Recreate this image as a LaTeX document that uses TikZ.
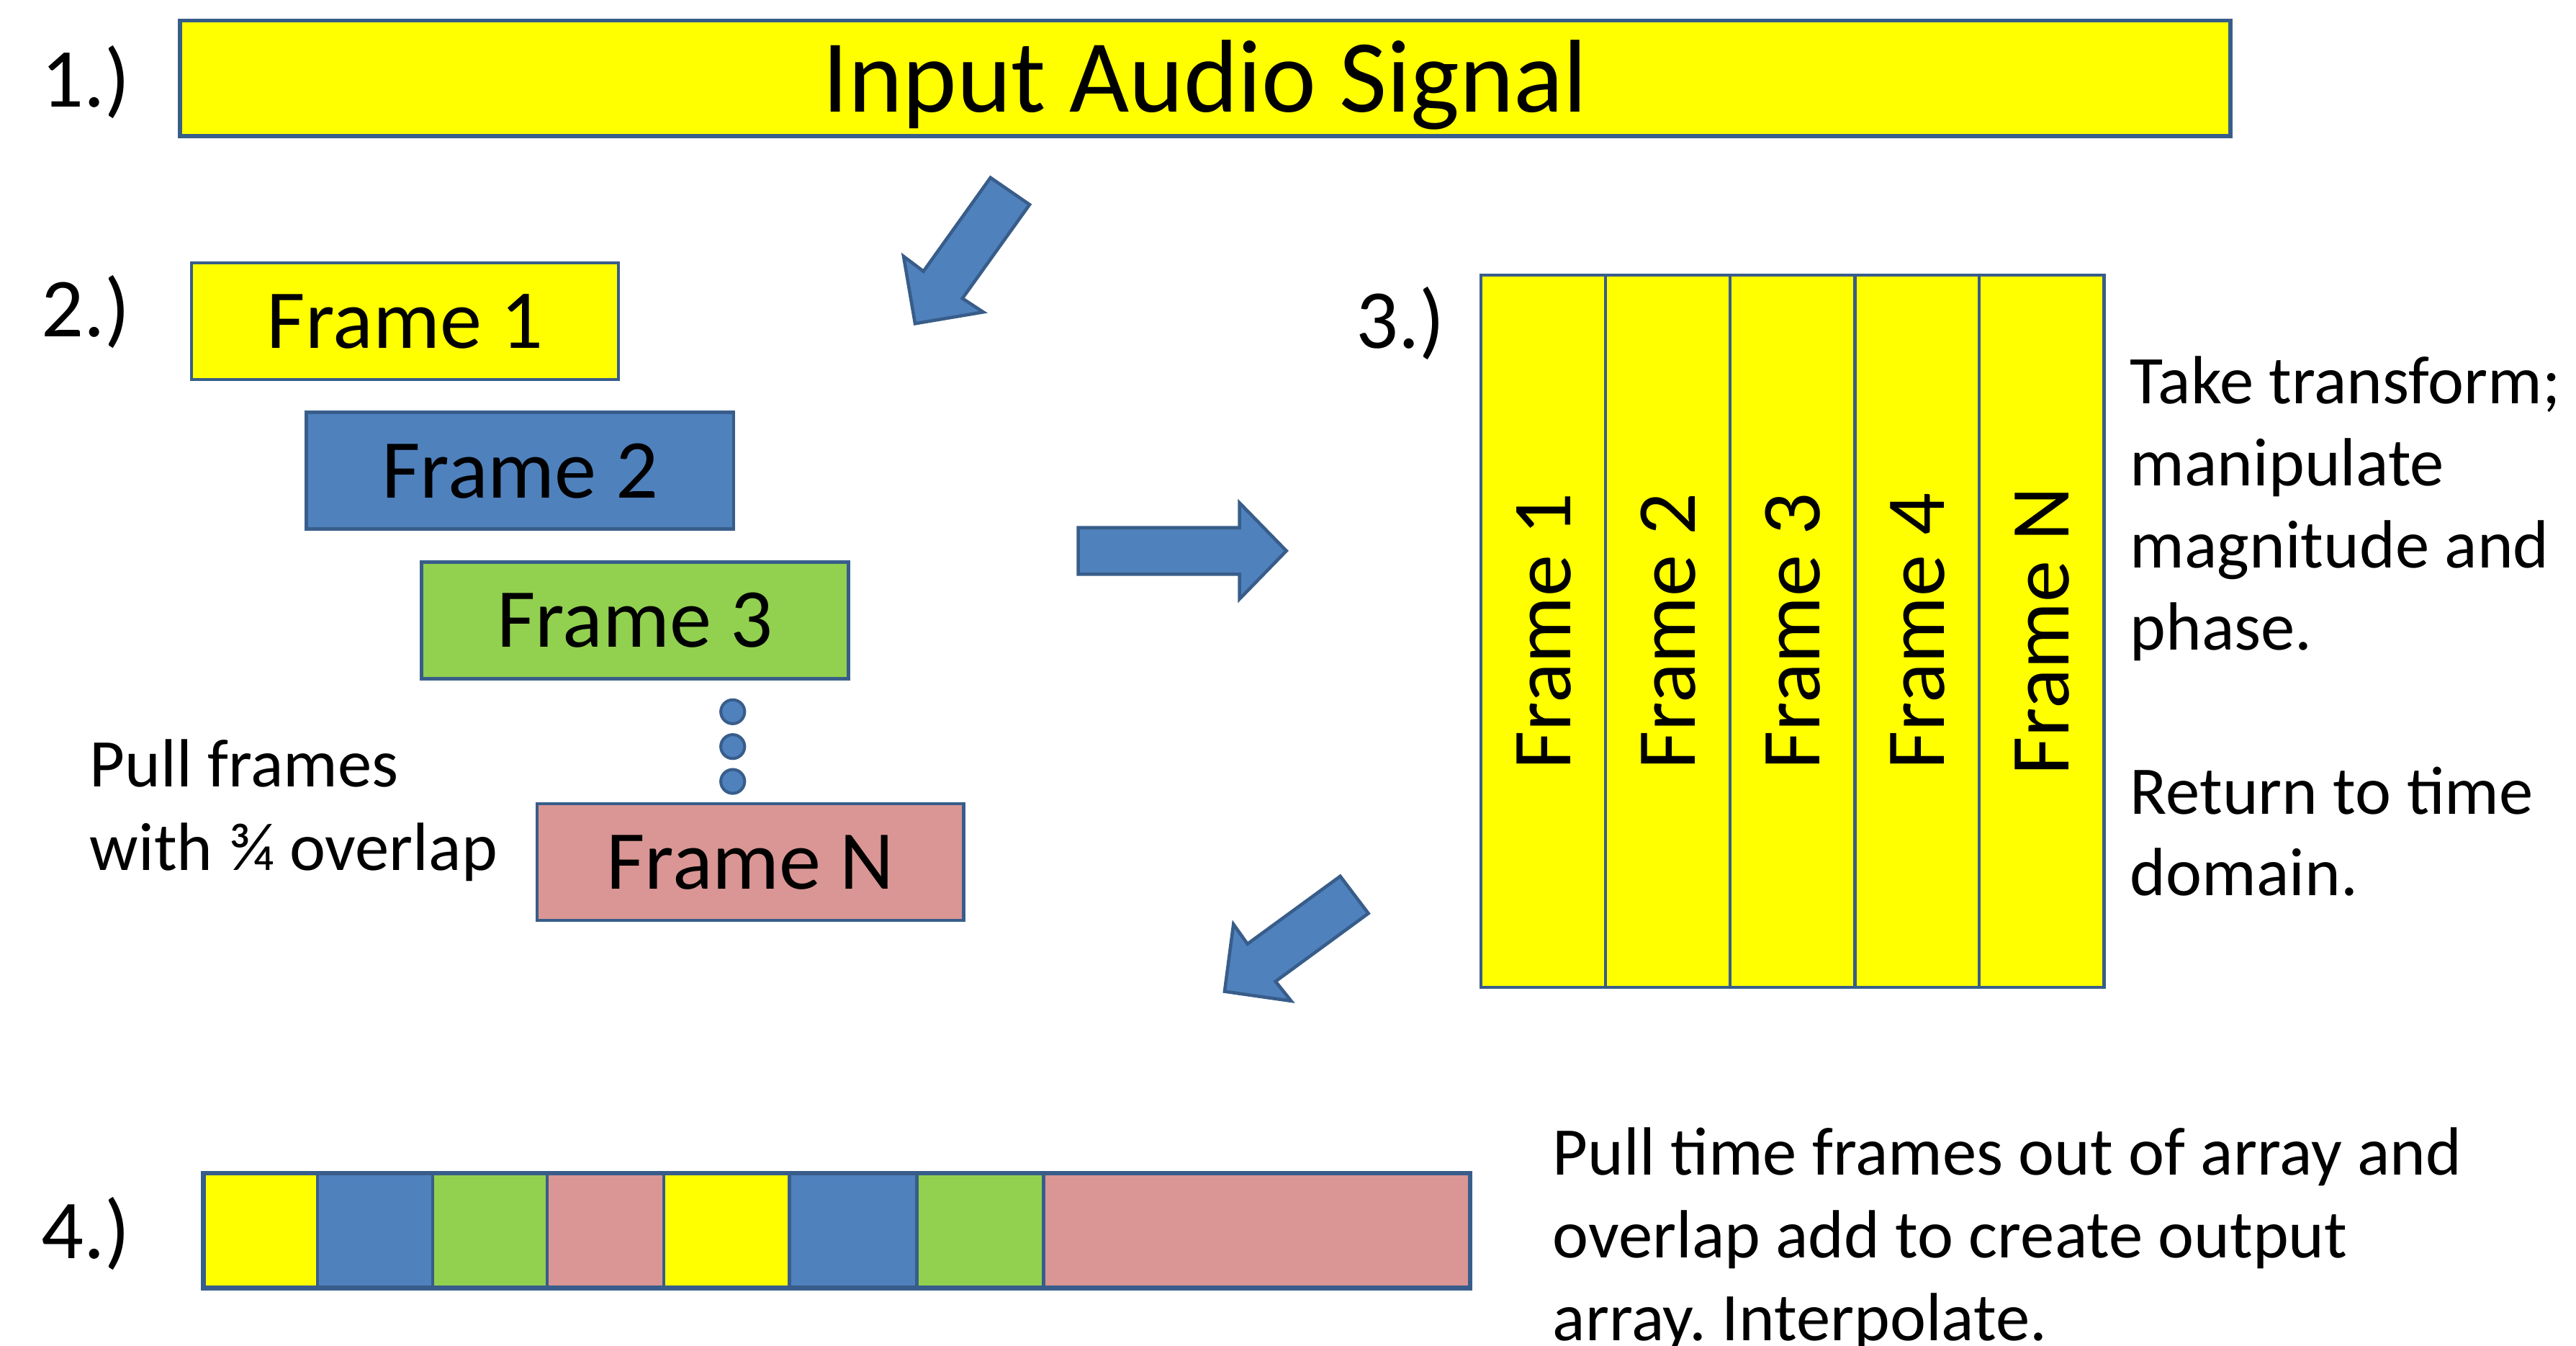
\documentclass[tikz,border=0pt]{standalone}
\usepackage{fontspec}
\setmainfont{Carlito}
\frenchspacing
\definecolor{ppyellow}{HTML}{FFFF00}
\definecolor{ppblue}{HTML}{4F81BD}
\definecolor{ppgreen}{HTML}{92D050}
\definecolor{pppink}{HTML}{D99694}
\definecolor{ppborder}{HTML}{385D8A}
\begin{document}
\begin{tikzpicture}[x=1pt,y=-1pt,
  box/.style={draw=ppborder, line width=2pt, rectangle, inner sep=0pt, outer sep=0pt,
    text height=32.8pt, text depth=0pt, font=\fontsize{51}{61}\selectfont, anchor=north west},
  cell/.style={draw=ppborder, line width=2pt, rectangle, inner sep=0pt, outer sep=0pt,
    anchor=north west, minimum height=69.9pt},
  col/.style={box, rotate=90, anchor=center, fill=ppyellow, line width=1.8pt,
    minimum width=433.6pt, minimum height=75.85pt},
  dotnode/.style={circle, fill=ppblue, draw=ppborder, line width=1.8pt, minimum size=14.5pt, inner sep=0pt},
  steplab/.style={anchor=base west, inner sep=0pt, font=\fontsize{51}{61}\selectfont},
  txt/.style={anchor=base west, inner sep=0pt, align=left, font=\fontsize{41.5}{50.4}\selectfont},
  blockarrow/.style={fill=ppblue, draw=ppborder, line width=2pt, line join=miter}
]
\path[use as bounding box] (0,0) rectangle (1568,819);

% 1.) input signal
\node[steplab] (s1) at (25,65) {1.)};
\node[box, fill=ppyellow, line width=2.6pt, minimum width=1248pt, minimum height=70.5pt,
  text height=40.6pt, font=\fontsize{63}{76}\selectfont] (title) at (109.5,12.5) {Input Audio Signal};

% arrow 1
\filldraw[blockarrow] (602.9,108.1) -- (626.7,124.5) -- (585.8,181.6) -- (598.5,189.9)
  -- (557.0,196.9) -- (550.0,156.0) -- (562.1,165.1) -- cycle;

% 2.) frames
\node[steplab] (s2) at (25,205) {2.)};
\node[box, fill=ppyellow, minimum width=260pt, minimum height=71pt] (f1) at (116.5,160) {Frame 1};
\node[box, fill=ppblue, minimum width=260pt, minimum height=71pt] (f2) at (186.5,251) {Frame 2};
\node[box, fill=ppgreen, minimum width=260pt, minimum height=71pt] (f3) at (256.5,342) {Frame 3};
\node[box, fill=pppink, minimum width=259.5pt, minimum height=71pt] (fn) at (327,489) {Frame N};
\node[dotnode] (d1) at (446,433.1) {};
\node[dotnode] (d2) at (446,454.3) {};
\node[dotnode] (d3) at (446,475.5) {};
\node[txt, font=\fontsize{41.5}{50.7}\selectfont] (pull) at (54.5,529.5) {Pull frames\\with ¾ overlap};

% arrow 2
\filldraw[blockarrow] (656.3,321.1) -- (754.5,321.1) -- (754.5,306.0) -- (783.0,335.2)
  -- (754.5,364.5) -- (754.5,349.4) -- (656.3,349.4) -- cycle;

% 3.) transform array
\node[steplab] (s3) at (825,212) {3.)};
\node[col] (c1) at (939.4,384.2) {Frame 1};
\node[col] (c2) at (1015.3,384.2) {Frame 2};
\node[col] (c3) at (1091.1,384.2) {Frame 3};
\node[col] (c4) at (1167.0,384.2) {Frame 4};
\node[col] (c5) at (1242.8,384.2) {Frame N};
\node[txt, font=\fontsize{41.5}{49.9}\selectfont] (take) at (1296.5,545.1)
  {Take transform;\\manipulate\\magnitude and\\phase.\\[49.9pt]Return to time\\domain.};

% arrow 3
\filldraw[blockarrow] (815.8,533.2) -- (832.9,555.8) -- (776.4,597.2) -- (785.9,609.1)
  -- (745.4,603.3) -- (750.8,562.4) -- (759.3,574.4) -- cycle;

% 4.) output array
\node[steplab] (s4) at (25,766) {4.)};
\node[cell, fill=ppyellow, minimum width=69.5pt] (o1) at (123.8,713.8) {};
\node[cell, fill=ppblue,   minimum width=70.1pt] (o2) at (193.3,713.8) {};
\node[cell, fill=ppgreen,  minimum width=69.6pt] (o3) at (263.4,713.8) {};
\node[cell, fill=pppink,   minimum width=71.1pt] (o4) at (333.0,713.8) {};
\node[cell, fill=ppyellow, minimum width=76.5pt] (o5) at (404.1,713.8) {};
\node[cell, fill=ppblue,   minimum width=77.5pt] (o6) at (480.6,713.8) {};
\node[cell, fill=ppgreen,  minimum width=77.0pt] (o7) at (558.1,713.8) {};
\node[cell, fill=pppink,   minimum width=259.7pt] (o8) at (635.1,713.8) {};
\draw[ppborder, line width=2.8pt] (o1.north west) rectangle (o8.south east);
\node[txt] (pulltime) at (945,815.8)
  {Pull time frames out of array and\\overlap add to create output\\array. Interpolate.};
\end{tikzpicture}
\end{document}
